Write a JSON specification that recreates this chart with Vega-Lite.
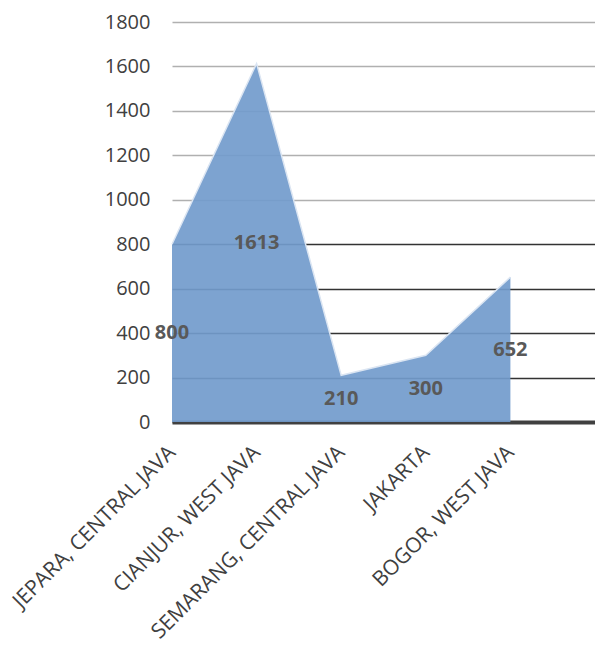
{
  "$schema": "https://vega.github.io/schema/vega-lite/v6.json",
  "width": 423,
  "height": 400,
  "autosize": {"type": "none"},
  "padding": {"left": 172, "top": 22, "right": 0, "bottom": 223},
  "config": {"view": {"stroke": null}, "font": "Open Sans"},
  "data": {
    "values": [
      {"city": "JEPARA, CENTRAL JAVA", "count": 800},
      {"city": "CIANJUR, WEST JAVA", "count": 1613},
      {"city": "SEMARANG, CENTRAL JAVA", "count": 210},
      {"city": "JAKARTA", "count": 300},
      {"city": "BOGOR, WEST JAVA", "count": 652}
    ]
  },
  "encoding": {
    "x": {
      "field": "city",
      "type": "nominal",
      "sort": null,
      "scale": {
        "type": "point",
        "padding": 0,
        "domain": ["JEPARA, CENTRAL JAVA", "CIANJUR, WEST JAVA", "SEMARANG, CENTRAL JAVA", "JAKARTA", "BOGOR, WEST JAVA", " "]
      },
      "axis": {
        "title": null,
        "labelAngle": -45,
        "labelAlign": "right",
        "labelBaseline": "middle",
        "labelFontSize": 21,
        "labelColor": "#404040",
        "labelPadding": 27,
        "labelLimit": 0,
        "ticks": false,
        "domainWidth": 4,
        "domainColor": "#404040",
        "grid": false
      }
    }
  },
  "layer": [
    {
      "mark": {"type": "area", "color": "#729bcc", "opacity": 0.92},
      "encoding": {
        "y": {
          "field": "count",
          "type": "quantitative",
          "scale": {"domain": [0, 1800]},
          "axis": {
            "title": null,
            "format": "d",
            "values": [0, 200, 400, 600, 800, 1000, 1200, 1400, 1600, 1800],
            "grid": true,
            "gridWidth": 1.5,
            "gridColor": {"condition": {"test": "datum.value >= 1000", "value": "#b0b0b0"}, "value": "#333333"},
            "domain": false,
            "ticks": false,
            "labelFontSize": 20,
            "labelColor": "#404040",
            "labelPadding": 22
          }
        }
      }
    },
    {
      "mark": {"type": "line", "color": "#dbe5f2", "strokeWidth": 1.5},
      "encoding": {
        "y": {"field": "count", "type": "quantitative", "scale": {"domain": [0, 1800]}, "axis": null}
      }
    },
    {
      "mark": {"type": "text", "fontWeight": "bold", "fontSize": 20, "color": "#595959"},
      "encoding": {
        "y": {"field": "count", "type": "quantitative", "scale": {"domain": [0, 3600]}, "axis": null},
        "text": {"field": "count", "type": "quantitative"}
      }
    }
  ],
  "resolve": {"scale": {"y": "independent"}}
}
